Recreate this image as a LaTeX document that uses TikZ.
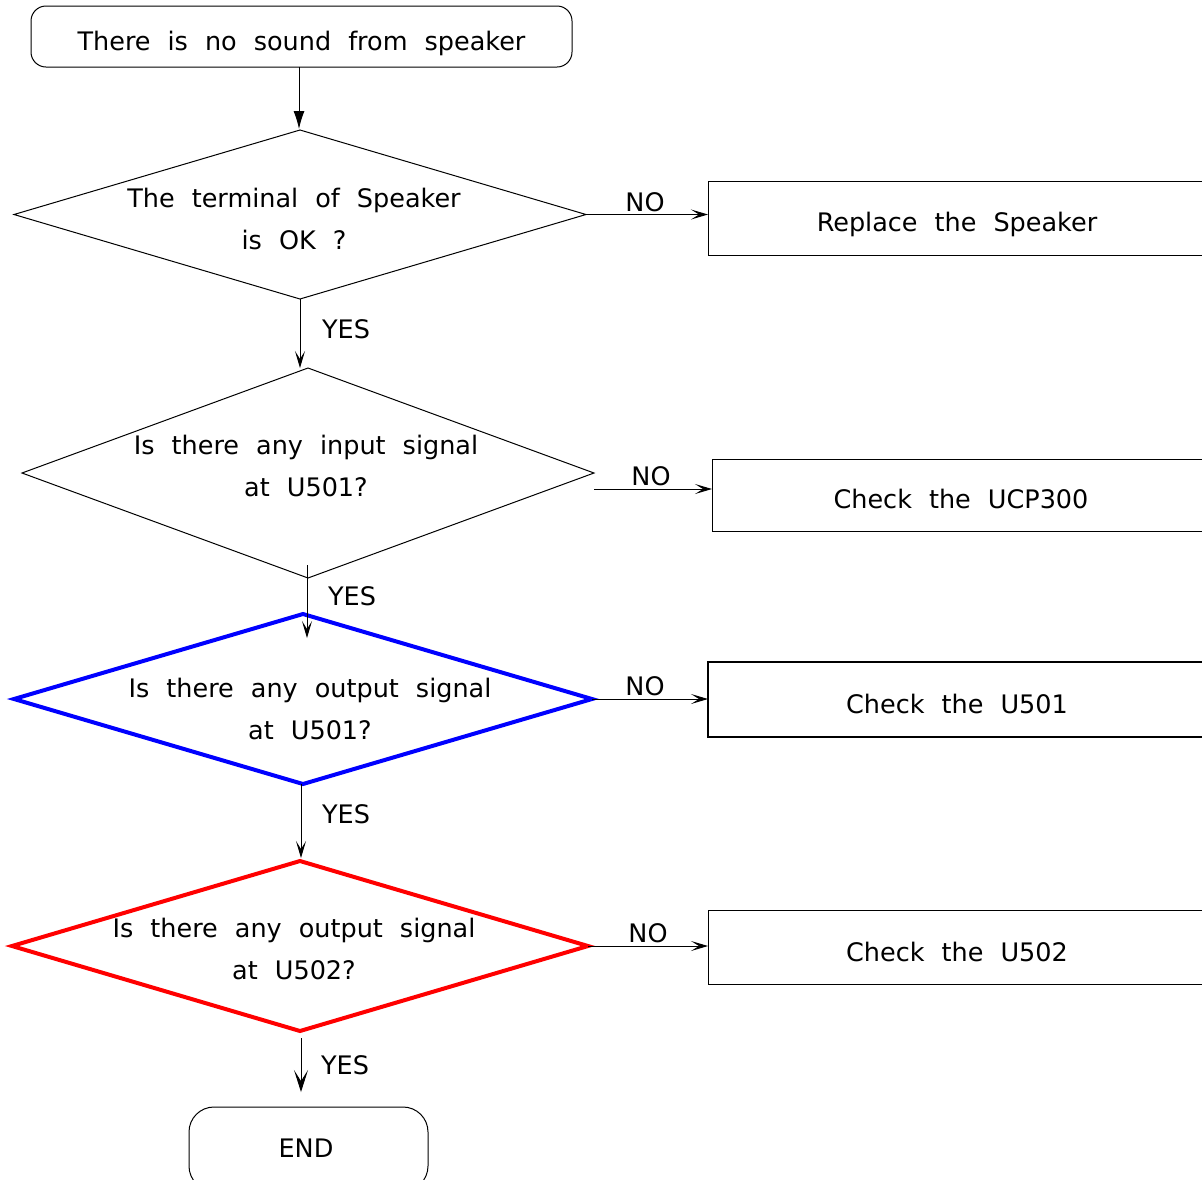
\documentclass[tikz,border=0pt]{standalone}
\usepackage{fontspec}
\setmainfont{DejaVu Sans}[WordSpace=2.1]
\usetikzlibrary{shapes.geometric,arrows.meta}
\definecolor{dblue}{RGB}{0,0,255}
\definecolor{dred}{RGB}{255,0,0}
\begin{document}
\begin{tikzpicture}[x=1pt,y=-1pt,
  txt/.style={font=\fontsize{25.5}{42}\selectfont, align=center, inner sep=0pt},
  lab/.style={font=\fontsize{25.5}{28}\selectfont, inner sep=0pt},
  dia/.style={diamond, draw, inner sep=0pt, outer sep=0pt, line width=1pt},
  rbox/.style={rectangle, draw, line width=1pt, outer sep=0pt, inner sep=0pt,
    minimum width=498pt, minimum height=74pt, text height=27pt, text depth=0pt,
    font=\fontsize{25.5}{28}\selectfont},
  term/.style={rectangle, rounded corners=#1, draw, line width=1pt, outer sep=0pt, inner sep=0pt,
    text height=27pt, text depth=0pt, font=\fontsize{25.5}{28}\selectfont},
  fl/.style={-{Latex[length=18pt,width=11pt]}, line width=1pt},
  op/.style={-{Stealth[length=17pt,width=10pt,inset=8pt]}, line width=1pt},
  opbig/.style={-{Stealth[length=22pt,width=14pt,inset=11pt]}, line width=1pt}]
\useasboundingbox (0,0) rectangle (1202,1179);
\clip (0,0) rectangle (1202,1179);

% start
\node[term=15pt, minimum width=541pt, minimum height=61pt] (start) at (301.5,36.5) {There is no sound from speaker};

% diamonds
\node[dia, minimum width=572pt, minimum height=169pt] (d1) at (300,214.5) {};
\node[txt] (d1t) at (294,219) {The terminal of Speaker\\is OK ?};
\node[dia, minimum width=572pt, minimum height=210pt] (d2) at (308,473) {};
\node[txt] (d2t) at (306,466) {Is there any input signal\\at U501?};
\node[dia, draw=dblue, line width=4pt, minimum width=578pt, minimum height=170pt] (d3) at (303,699) {};
\node[txt] (d3t) at (310,709) {Is there any output signal\\at U501?};
\node[dia, draw=dred, line width=4pt, minimum width=576pt, minimum height=170pt] (d4) at (300,946) {};
\node[txt] (d4t) at (294,949) {Is there any output signal\\at U502?};

% right boxes
\node[rbox] (b1) at (957,218) {Replace the Speaker};
\node[rbox, minimum height=72pt] (b2) at (961,495) {Check the UCP300};
\node[rbox, line width=2pt, minimum height=75pt] (b3) at (957,699.5) {Check the U501};
\node[rbox, minimum height=74pt, text height=29pt] (b4) at (957,947) {Check the U502};

% end
\node[term=25pt, minimum width=239pt, minimum height=84pt] (end) at (308.5,1149) {};
\node[txt] (endt) at (306,1148) {END};

% connectors
\draw[fl] (start.south -| 299,0) -- (299,129);
\draw[op] (d1.east) -- (d1.east -| b1.west);
\draw[op] (d1.south) -- (d1.south |- d2.north);
\coordinate (c2a) at (594,489);
\draw[op] (c2a) -- (c2a -| b2.west);
\coordinate (c3a) at (307,565);
\coordinate (c3b) at (307,638);
\draw[op] (c3a) -- (c3b);
\draw[op] (d3.east) -- (d3.east -| b3.west);
\coordinate (c4a) at (301,784);
\coordinate (c4b) at (301,858);
\draw[op] (c4a) -- (c4b);
\draw[op] (d4.east) -- (d4.east -| b4.west);
\coordinate (c5a) at (301,1038);
\coordinate (c5b) at (301,1092);
\draw[opbig] (c5a) -- (c5b);

% labels
\node[lab] (n1) at (645,202) {NO};
\node[lab] (n2) at (651,476) {NO};
\node[lab] (n3) at (645,686) {NO};
\node[lab] (n4) at (648,933) {NO};
\node[lab] (y1) at (346,329) {YES};
\node[lab] (y2) at (352,596) {YES};
\node[lab] (y3) at (346,814) {YES};
\node[lab] (y4) at (345,1065) {YES};
\end{tikzpicture}
\end{document}
